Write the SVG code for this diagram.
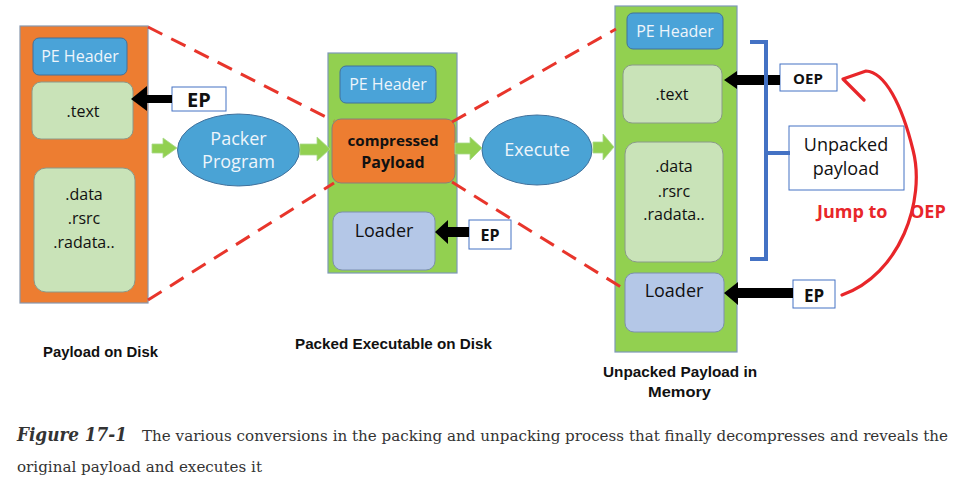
<svg xmlns="http://www.w3.org/2000/svg" width="960" height="491" viewBox="0 0 960 491">
<style>
.bg{fill:#ffffff}
.orange{fill:#ed7d31;stroke:#8797ad;stroke-width:1.2}
.green{fill:#92d050;stroke:#7e98b8;stroke-width:1.2}
.pe{fill:#4aa3d8;stroke:#41719c;stroke-width:1}
.sec{fill:#c9e3b8;stroke:#8a9a8a;stroke-width:1}
.load{fill:#b4c7e7;stroke:#7d8fb0;stroke-width:1}
.comp{fill:#ed7d31;stroke:#8a7f7a;stroke-width:1}
.ell{fill:#4aa3d5;stroke:#41719c;stroke-width:1}
.lbl{fill:#ffffff;stroke:#4472c4;stroke-width:1}
.t{font-family:"Open Sans","Liberation Sans",sans-serif;text-anchor:middle;fill:#111}
.w{fill:#eef5fb}
.b{font-weight:bold}
.dash{fill:none;stroke:#e8352b;stroke-width:3;stroke-dasharray:16 10}
.blk{fill:#000}
.garr{fill:#92d050;stroke:#a9d98a;stroke-width:0.8}
.cap{font-family:"Liberation Sans",sans-serif;font-weight:bold;fill:#111;font-size:15px}
.fig{font-family:"DejaVu Serif","Liberation Serif",serif;fill:#333}
</style>
<rect class="bg" x="0" y="0" width="960" height="491"/>

<g id="payload-disk">
  <rect class="orange" x="20" y="26" width="128" height="277"/>
  <rect class="pe" x="33" y="38" width="94" height="37" rx="6"/>
  <text class="t w" x="80" y="62" font-size="16">PE Header</text>
  <rect class="sec" x="32" y="82" width="101" height="57" rx="9"/>
  <text class="t" x="83" y="117" font-size="16">.text</text>
  <rect class="sec" x="34" y="168" width="101" height="124" rx="12"/>
  <text class="t" x="84" y="200" font-size="16">.data</text>
  <text class="t" x="84" y="224" font-size="16">.rsrc</text>
  <text class="t" x="84" y="248" font-size="16">.radata..</text>
</g>

<g id="ep-left">
  <rect class="lbl" x="172" y="87" width="54" height="24"/>
  <text class="t b" x="199" y="107" font-size="20">EP</text>
</g>

<g id="packer">
  <ellipse class="ell" cx="238.5" cy="150" rx="61" ry="36"/>
  <text class="t w" x="238.5" y="145" font-size="18">Packer</text>
  <text class="t w" x="238.5" y="168" font-size="18">Program</text>
</g>

<g id="packed-exe">
  <rect class="green" x="328" y="53" width="129" height="220"/>
  <rect class="pe" x="340" y="66" width="96" height="37" rx="6"/>
  <text class="t w" x="388" y="90" font-size="16">PE Header</text>
  <rect class="comp" x="332" y="119" width="123" height="64" rx="9"/>
  <text class="t b" x="393" y="146" font-size="15" textLength="91" lengthAdjust="spacingAndGlyphs">compressed</text>
  <text class="t b" x="393" y="168" font-size="16">Payload</text>
  <rect class="load" x="333" y="212" width="102" height="58" rx="9"/>
  <text class="t" x="384" y="237" font-size="18">Loader</text>
</g>

<g id="ep-mid">
  <rect class="lbl" x="469" y="220" width="42" height="29"/>
  <text class="t b" x="490" y="241" font-size="16">EP</text>
</g>

<g id="execute">
  <ellipse class="ell" cx="537" cy="150" rx="55" ry="35"/>
  <text class="t w" x="537" y="156" font-size="18">Execute</text>
</g>

<g id="unpacked-mem">
  <rect class="green" x="615" y="6" width="122" height="346"/>
  <rect class="pe" x="627" y="13" width="96" height="36" rx="6"/>
  <text class="t w" x="675" y="37" font-size="16">PE Header</text>
  <rect class="sec" x="623" y="65" width="99" height="58" rx="9"/>
  <text class="t" x="672" y="100" font-size="16">.text</text>
  <rect class="sec" x="625" y="142" width="98" height="120" rx="12"/>
  <text class="t" x="674" y="172" font-size="16">.data</text>
  <text class="t" x="674" y="197" font-size="16">.rsrc</text>
  <text class="t" x="674" y="220" font-size="16">.radata..</text>
  <rect class="load" x="625" y="273" width="99" height="59" rx="9"/>
  <text class="t" x="674" y="297" font-size="18">Loader</text>
</g>

<g id="oep">
  <rect class="lbl" x="780" y="64" width="57" height="27"/>
  <text class="t b" x="808" y="84" font-size="15">OEP</text>
</g>

<g id="unpacked-label">
  <rect class="lbl" x="789" y="126" width="115" height="64"/>
  <text class="t" x="846" y="151" font-size="18">Unpacked</text>
  <text class="t" x="846" y="175" font-size="18">payload</text>
</g>

<g id="ep-right">
  <rect class="lbl" x="793" y="280" width="42" height="28"/>
  <text class="t b" x="814" y="302" font-size="17">EP</text>
</g>

<g id="jump-label">
  <text x="817" y="218" font-family="Open Sans,Liberation Sans,sans-serif" font-weight="bold" font-size="18" fill="#e8262a">Jump to</text>
  <text x="910" y="218" font-family="Open Sans,Liberation Sans,sans-serif" font-weight="bold" font-size="18" fill="#e8262a">OEP</text>
</g>

<g id="connectors">
  <path class="dash" d="M148,27 L334,121"/>
  <path class="dash" d="M148,300 L334,183"/>
  <path class="dash" d="M452,122 L616,29"/>
  <path class="dash" d="M452,182 L624,289"/>
  <polygon class="garr" points="152,144 163,144 163,138 177,148 163,158 163,153 152,153"/>
  <polygon class="garr" points="300,144 317,144 317,137 330,149 317,161 317,155 300,155"/>
  <polygon class="garr" points="455,143 470,143 470,137 482,148 470,160 470,154 455,154"/>
  <polygon class="garr" points="593,142 603,142 603,134 614,147 603,160 603,153 593,153"/>
  <polygon class="blk" points="172,95 147,95 147,86 131,99 147,111 147,103 172,103"/>
  <polygon class="blk" points="469,227 448,227 448,220 435,232 448,244 448,237 469,237"/>
  <polygon class="blk" points="780,75 737,75 737,71 724,80 737,89 737,85 780,85"/>
  <polygon class="blk" points="793,288 738,288 738,282 724,293 738,305 738,298 793,298"/>
  <path d="M750,42 L766,42 L766,259 L750,259 M766,153 L790,153" fill="none" stroke="#4472c4" stroke-width="4"/>
  <path d="M842,295 C900,275 926,200 913,150 C902,105 885,72 866,71 L843,79 L864,100" fill="none" stroke="#e8262a" stroke-width="3.2" stroke-linecap="round" stroke-linejoin="round"/>
</g>

<g id="captions">
  <text class="cap" x="43" y="357" textLength="115" lengthAdjust="spacingAndGlyphs">Payload on Disk</text>
  <text class="cap" x="295" y="349" textLength="197" lengthAdjust="spacingAndGlyphs">Packed Executable on Disk</text>
  <text class="cap" x="603" y="377" textLength="154" lengthAdjust="spacingAndGlyphs">Unpacked Payload in</text>
  <text class="cap" x="648" y="397" textLength="63" lengthAdjust="spacingAndGlyphs">Memory</text>
</g>

<g id="figure-caption">
  <text class="fig" x="17" y="441" font-size="19" font-weight="bold" font-style="italic" textLength="110" lengthAdjust="spacingAndGlyphs">Figure 17-1</text>
  <text class="fig" x="142" y="441" font-size="15" textLength="806" lengthAdjust="spacingAndGlyphs">The various conversions in the packing and unpacking process that finally decompresses and reveals the</text>
  <text class="fig" x="17" y="472" font-size="15" textLength="245" lengthAdjust="spacingAndGlyphs">original payload and executes it</text>
</g>
</svg>
